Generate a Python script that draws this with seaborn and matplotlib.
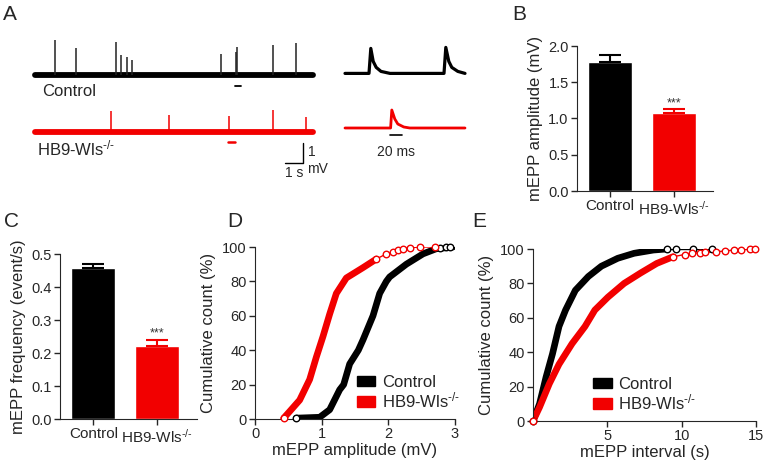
import numpy as np
import pandas as pd
import matplotlib
matplotlib.use("Agg")
import matplotlib.pyplot as plt
import seaborn as sns
from matplotlib.patches import Patch

sns.set_style("ticks")
plt.rcParams['font.family'] = ['Liberation Sans', 'DejaVu Sans']
plt.rcParams['mathtext.fontset'] = 'custom'
plt.rcParams['mathtext.rm'] = 'Liberation Sans'
plt.rcParams['mathtext.default'] = 'regular'

# ---- data ----
groups = ["Control", r"HB9-Wls$^{\text{-/-}}$"]
colors = ["black", "#f20000"]

# B: mEPP amplitude (mV), mean and SEM
amp_mean = [1.775, 1.08]
amp_sem = [0.10, 0.045]
# C: mEPP frequency (event/s)
freq_mean = [0.459, 0.221]
freq_sem = [0.012, 0.019]

# A: spike times (s) and amplitudes (mV) in the 15 s traces
ctrl_spike_t = [1.11, 2.28, 4.48, 4.76, 5.13, 5.37, 10.33, 11.15, 11.24, 13.24, 14.48]
ctrl_spike_a = [1.74, 1.37, 1.65, 0.99, 0.90, 0.75, 1.07, 1.15, 1.40, 1.50, 1.60]
wls_spike_t = [4.20, 7.46, 10.76, 13.24, 15.06]
wls_spike_a = [1.05, 0.87, 0.78, 1.08, 0.77]
trace_len = 15.44

# A: expanded traces (ms, mV)
ctrl_zoom_t = [0, 40, 43, 47, 52, 60, 75, 165, 168, 173, 178, 188, 200]
ctrl_zoom_v = [0, 0, 1.25, 0.6, 0.3, 0.1, 0, 0, 1.3, 0.6, 0.3, 0.1, 0]
wls_zoom_t = [0, 76, 78, 83, 88, 98, 108, 200]
wls_zoom_v = [0, 0, 0.9, 0.45, 0.2, 0.05, 0, 0]

# D: cumulative amplitude distributions (mV, %)
d_ctrl_x = [0.62, 0.97, 1.12, 1.27, 1.33, 1.42, 1.55, 1.62, 1.77, 1.87, 1.97, 2.02, 2.27, 2.52, 2.72, 2.97]
d_ctrl_y = [0.5, 1, 5.4, 17, 20, 32, 40, 46, 60, 73, 80, 82.6, 90, 96, 99, 100]
d_wls_x = [0.43, 0.52, 0.67, 0.82, 0.92, 1.02, 1.12, 1.22, 1.37, 1.62, 1.82]
d_wls_y = [0.5, 4.4, 11, 23, 36, 48, 61, 73, 82, 88, 93]
d_wls_tail_x = [1.82, 1.97, 2.07, 2.15, 2.22, 2.32, 2.47, 2.70]
d_wls_tail_y = [93, 96, 97, 98, 99, 99.6, 100, 100]
d_ctrl_tail_x = [2.78, 2.86, 2.93]
d_ctrl_tail_y = [99.5, 100, 100]

# E: cumulative interval distributions (s, %)
e_ctrl_x = [0, 0.44, 0.88, 1.31, 1.75, 2.19, 2.85, 3.72, 4.6, 5.7, 6.8, 8.1, 9.0]
e_ctrl_y = [0, 10, 25.6, 39, 55, 64.5, 76, 84, 90, 94.6, 97.5, 99.4, 100]
e_ctrl_tail_x = [9.0, 9.63, 10.73, 12.04]
e_ctrl_tail_y = [100, 100, 100, 100]
e_wls_x = [0, 0.44, 1.1, 1.75, 2.63, 3.5, 4.16, 5.04, 6.13, 7.23, 8.32, 9.42]
e_wls_y = [0, 8, 21.7, 33, 45, 55, 64.5, 72, 80, 86, 91.6, 95.5]
e_wls_tail_x = [9.42, 10.2, 10.7, 11.2, 11.6, 12.3, 12.9, 13.5, 14.0, 14.6, 14.9]
e_wls_tail_y = [95.5, 96.8, 97.5, 97.8, 98, 98.4, 98.8, 99.4, 99.6, 99.8, 100]

W, H = 765, 465


def rect(l, t, r, b):
    return [l / W, 1 - b / H, (r - l) / W, (b - t) / H]


fig = plt.figure(figsize=(7.65, 4.65), dpi=100)

TICK = 10.5
LAB = 12

# ---------- A: long traces ----------
axA = fig.add_axes(rect(30, 25, 320, 180))
axA.set_xlim(-5 / 18, -5 / 18 + 290 / 18)
axA.set_ylim(-5.25, 2.5)
axA.axis("off")
red_off = -2.85
sns.lineplot(x=[0, trace_len], y=[0, 0], color=colors[0], lw=4.2, ax=axA)
sns.lineplot(x=[0, trace_len], y=[red_off, red_off], color=colors[1], lw=4.2, ax=axA)
axA.vlines(ctrl_spike_t, 0, ctrl_spike_a, color="#222222", lw=1.1)
axA.vlines(wls_spike_t, red_off, np.array(wls_spike_a) + red_off, color=colors[1], lw=1.1)
# segments shown expanded
axA.plot([11.1, 11.43], [-0.55, -0.55], color="black", lw=1.3)
axA.plot([10.7, 11.1], [red_off - 0.5, red_off - 0.5], color=colors[1], lw=1.8)
# scale bar 1 s / 1 mV
sx, sy = 14.89, -4.4
axA.plot([sx - 1, sx, sx], [sy, sy, sy + 1], color="black", lw=1)
axA.text(sx + 0.3, sy + 0.55, "1", fontsize=10, va="center", ha="left")
axA.text(sx + 0.2, sy - 0.3, "mV", fontsize=10, va="center", ha="left")
axA.text(sx - 0.5, sy - 0.5, "1 s", fontsize=10, va="center", ha="center")
axA.text(0.4, -0.85, "Control", fontsize=LAB, va="center", ha="left")
axA.text(0.1, red_off - 0.8, groups[1], fontsize=LAB, va="center", ha="left")

# ---------- A: expanded traces ----------
axA2 = fig.add_axes(rect(340, 25, 470, 180))
axA2.set_xlim(-5 / 0.6, -5 / 0.6 + 130 / 0.6)
axA2.set_ylim(-5.25, 2.5)
axA2.axis("off")
sns.lineplot(x=ctrl_zoom_t, y=np.array(ctrl_zoom_v) + 0.08, color=colors[0], lw=2.3,
             sort=False, estimator=None, ax=axA2)
sns.lineplot(x=wls_zoom_t, y=np.array(wls_zoom_v) + red_off + 0.2, color=colors[1], lw=2.0,
             sort=False, estimator=None, ax=axA2)
axA2.plot([75, 95], [-3.0, -3.0], color="black", lw=1.2)
axA2.text(85, -3.85, "20 ms", fontsize=10, ha="center", va="center")


# ---------- bar panels ----------
def bar_panel(box, means, sems, ylim, yticks, fmt, ylabel):
    ax = fig.add_axes(box)
    sns.barplot(x=groups, y=means, hue=groups, palette=colors, width=0.69,
                saturation=1, legend=False, ax=ax)
    for i in range(2):
        ax.errorbar(i, means[i], yerr=[[0], [sems[i]]], fmt="none", ecolor=colors[i],
                    elinewidth=1.5, capsize=8, capthick=1.5)
    ax.text(1, means[1] + sems[1], "***", ha="center", va="bottom",
            fontsize=9, color="#333333")
    ax.set_xlim(-0.52, 1.62)
    ax.set_ylim(*ylim)
    ax.set_yticks(yticks)
    ax.set_yticklabels([fmt.format(v) for v in yticks])
    ax.set_ylabel(ylabel, fontsize=LAB)
    ax.tick_params(labelsize=TICK, length=4, width=1, pad=2)
    ax.tick_params(axis="x", labelsize=11)
    sns.despine(ax=ax)
    return ax


axB = bar_panel(rect(577, 46, 713, 191), amp_mean, amp_sem, (0, 2.0),
                [0, 0.5, 1.0, 1.5, 2.0], "{:.1f}", "mEPP amplitude (mV)")
axC = bar_panel(rect(60, 254, 197, 419), freq_mean, freq_sem, (0, 0.5),
                [0, 0.1, 0.2, 0.3, 0.4, 0.5], "{:.1f}", "mEPP frequency (event/s)")


# ---------- cumulative panels ----------
def cdf_panel(box, dense, tails, xlim, xticks, xlabel, leg_anchor):
    ax = fig.add_axes(box)
    for (x, y), c in zip(dense, colors):
        sns.lineplot(x=x, y=y, color=c, lw=4.8, sort=False, estimator=None, ax=ax)
        ax.scatter(x[:1], y[:1], s=22, facecolors="white", edgecolors=c, linewidths=1,
                   zorder=3, clip_on=False)
    for (x, y), c in zip(tails, colors):
        sns.lineplot(x=x, y=y, color=c, lw=1, sort=False, estimator=None, ax=ax)
        ax.scatter(x, y, s=22, facecolors="white", edgecolors=c, linewidths=1,
                   zorder=3, clip_on=False)
    ax.set_xlim(*xlim)
    ax.set_ylim(0, 100)
    ax.set_xticks(xticks)
    ax.set_yticks([0, 20, 40, 60, 80, 100])
    ax.set_xlabel(xlabel, fontsize=LAB, labelpad=1)
    ax.set_ylabel("Cumulative count (%)", fontsize=LAB)
    ax.tick_params(labelsize=TICK, length=4, width=1, pad=2)
    handles = [Patch(color=c) for c in colors]
    ax.legend(handles, groups, loc="lower left", bbox_to_anchor=leg_anchor, frameon=False,
              fontsize=LAB, handlelength=1.1, handleheight=0.55, handletextpad=0.4,
              labelspacing=0.05, borderpad=0, borderaxespad=0)
    sns.despine(ax=ax)
    return ax


axD = cdf_panel(rect(255, 247, 455, 419),
                [(d_ctrl_x, d_ctrl_y), (d_wls_x, d_wls_y)],
                [(d_ctrl_tail_x, d_ctrl_tail_y), (d_wls_tail_x, d_wls_tail_y)],
                (0, 3), [0, 1, 2, 3], "mEPP amplitude (mV)", (0.51, 0.05))
axE = cdf_panel(rect(533, 249, 756, 421),
                [(e_ctrl_x, e_ctrl_y), (e_wls_x, e_wls_y)],
                [(e_ctrl_tail_x, e_ctrl_tail_y), (e_wls_tail_x, e_wls_tail_y)],
                (0, 15), [5, 10, 15], "mEPP interval (s)", (0.27, 0.05))

# panel letters
for lbl, (px, py) in {"A": (3, 15), "B": (512, 15), "C": (4, 221),
                      "D": (227, 221), "E": (472, 221)}.items():
    fig.text(px / W, 1 - py / H, lbl, fontsize=15, ha="left", va="center")

fig.savefig("out.png", dpi=100)
